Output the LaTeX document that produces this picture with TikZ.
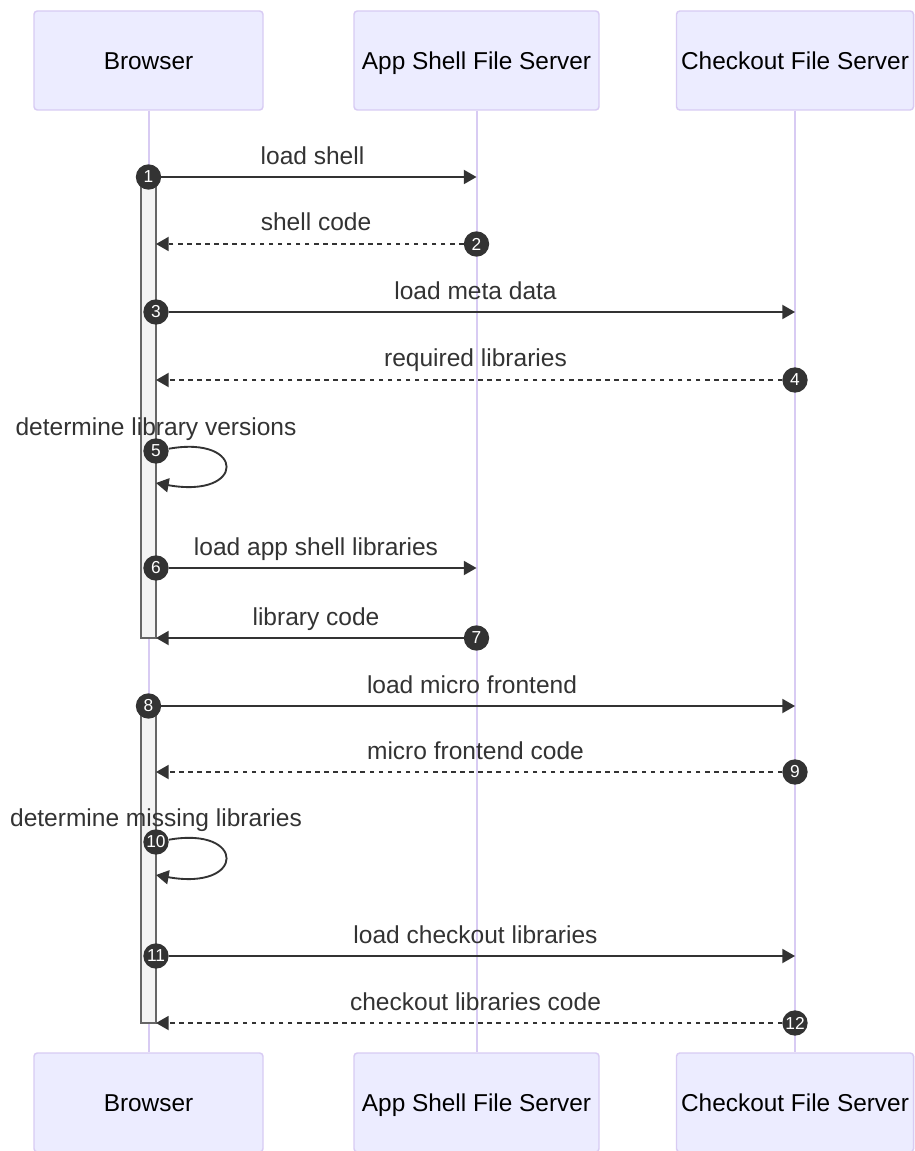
\documentclass[tikz,border=0pt]{standalone}
\usepackage{fontspec}
\setmainfont{Liberation Sans}
\usetikzlibrary{arrows.meta}

\definecolor{actorfill}{HTML}{ECECFF}
\definecolor{actorline}{HTML}{D8CBF3}
\definecolor{sig}{HTML}{333333}
\definecolor{actfill}{HTML}{F4F4F4}
\definecolor{actline}{HTML}{666666}

\tikzset{
  actor/.style={draw=actorline, fill=actorfill, line width=1.1pt, rounded corners=2.5pt,
    minimum height=74.25pt, inner sep=0pt, text=black, text height=13pt, text depth=0pt,
    font=\fontsize{18.3}{21}\selectfont},
  lifeline/.style={draw=actorline, line width=1.5pt},
  activation/.style={draw=actline, fill=actfill, line width=1.1pt},
  msg/.style={draw=sig, line width=1.4pt, -{Triangle[length=9.5pt,width=10.5pt]}},
  reply/.style={msg, dash pattern=on 3.4pt off 3.4pt},
  seqnum/.style={circle, fill=sig, minimum size=19pt, inner sep=0pt, text=white,
    font=\fontsize{13}{14}\selectfont},
  msglabel/.style={anchor=base, inner sep=0pt, text=sig, font=\fontsize{18.4}{21}\selectfont},
}

\begin{document}
\begin{tikzpicture}[x=0.75pt, y=-0.75pt]
  \useasboundingbox (0,0) rectangle (914,1151);
  \fill[white] (0,0) rectangle (914,1151);

  % participants, top and bottom
  \node[actor, minimum width=171.75pt] (bt) at (148.5,60.5) {Browser};
  \node[actor, minimum width=183.75pt] (at) at (476.5,60.5) {App Shell File Server};
  \node[actor, minimum width=177.75pt] (ct) at (795,60.5) {Checkout File Server};
  \node[actor, minimum width=171.75pt] (bb) at (148.5,1102.5) {Browser};
  \node[actor, minimum width=183.75pt] (ab) at (476.5,1102.5) {App Shell File Server};
  \node[actor, minimum width=177.75pt] (cb) at (795,1102.5) {Checkout File Server};

  % lifelines
  \draw[lifeline] (bt.south) -- (bb.north);
  \draw[lifeline] (at.south) -- (ab.north);
  \draw[lifeline] (ct.south) -- (cb.north);

  % activations of the browser
  \filldraw[activation] (141,177) rectangle (156,638);
  \filldraw[activation] (141,706) rectangle (156,1023);

  % message end points
  \coordinate (t1) at (476.5,177);
  \coordinate (t2) at (156,244);
  \coordinate (t3) at (795,312);
  \coordinate (t4) at (156,380);
  \coordinate (t5) at (156,483);
  \coordinate (t6) at (476.5,568);
  \coordinate (t7) at (156,638);
  \coordinate (t8) at (795,706);
  \coordinate (t9) at (156,772);
  \coordinate (t10) at (156,875);
  \coordinate (t11) at (795,956);
  \coordinate (t12) at (156,1023);

  % sequence numbers
  \node[seqnum] (n1) at (148.5,177) {1};
  \node[seqnum] (n2) at (476.5,244) {2};
  \node[seqnum] (n3) at (156,312) {3};
  \node[seqnum] (n4) at (795,380) {4};
  \node[seqnum] (n5) at (156,451) {5};
  \node[seqnum] (n6) at (156,568) {6};
  \node[seqnum] (n7) at (476.5,638) {7};
  \node[seqnum] (n8) at (148.5,706) {8};
  \node[seqnum] (n9) at (795,772) {9};
  \node[seqnum] (n10) at (156,842) {10};
  \node[seqnum] (n11) at (156,956) {11};
  \node[seqnum] (n12) at (795,1023) {12};

  % messages
  \draw[msg] (n1) -- (t1);
  \draw[reply] (n2) -- (t2);
  \draw[msg] (n3) -- (t3);
  \draw[reply] (n4) -- (t4);
  \draw[msg] (n5) .. controls (246,435) and (246,499) .. (t5);
  \draw[msg] (n6) -- (t6);
  \draw[msg] (n7) -- (t7);
  \draw[msg] (n8) -- (t8);
  \draw[reply] (n9) -- (t9);
  \draw[msg] (n10) .. controls (246,826) and (246,891) .. (t10);
  \draw[msg] (n11) -- (t11);
  \draw[reply] (n12) -- (t12);

  % message labels
  \node[msglabel] (l1) at (312.5,164.5) {load shell};
  \node[msglabel] (l2) at (316,231) {shell code};
  \node[msglabel] (l3) at (475.5,299.5) {load meta data};
  \node[msglabel] (l4) at (475.5,367) {required libraries};
  \node[msglabel] (l5) at (156,435) {determine library versions};
  \node[msglabel] (l6) at (316,555.5) {load app shell libraries};
  \node[msglabel] (l7) at (316,625) {library code};
  \node[msglabel] (l8) at (472,693.5) {load micro frontend};
  \node[msglabel] (l9) at (475.5,759.5) {micro frontend code};
  \node[msglabel] (l10) at (156,826) {determine missing libraries};
  \node[msglabel] (l11) at (475.5,943.5) {load checkout libraries};
  \node[msglabel] (l12) at (475.5,1010) {checkout libraries code};
\end{tikzpicture}
\end{document}
